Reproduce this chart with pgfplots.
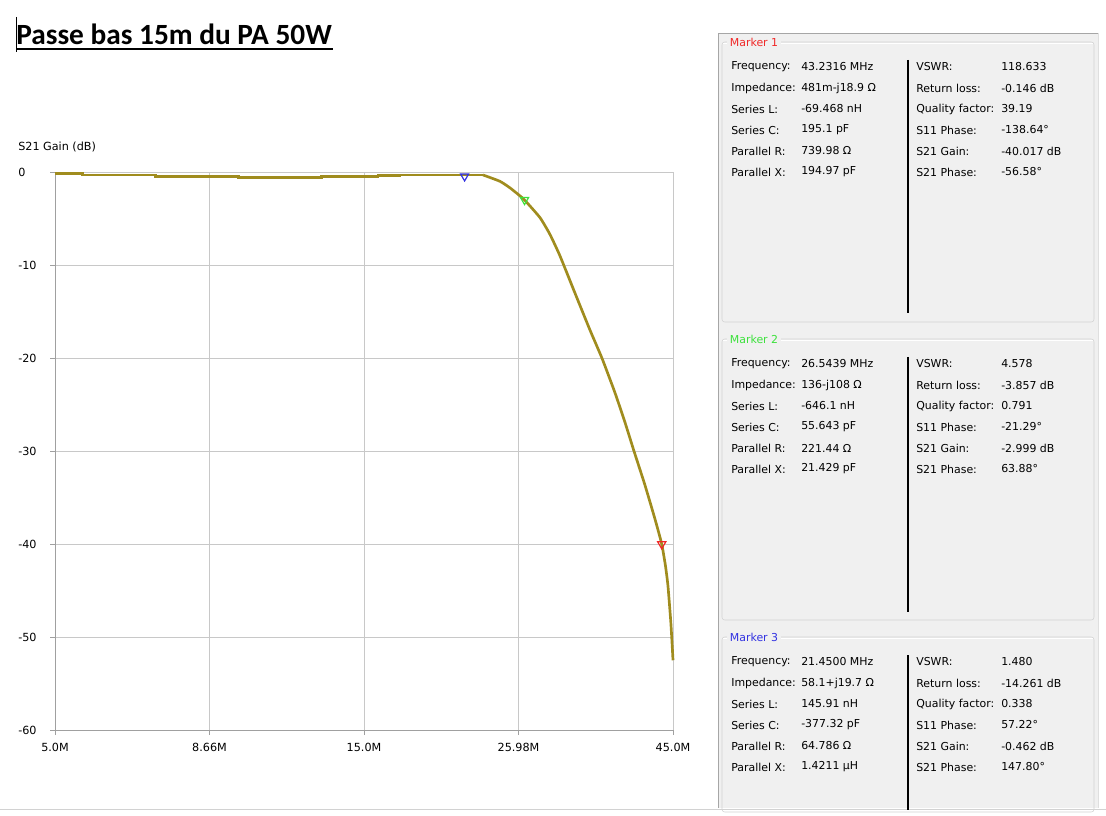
\documentclass[border=0pt]{standalone}
\usepackage{pgfplots}
\pgfplotsset{compat=1.18}
\usepackage{fontspec}
\setmainfont{DejaVu Sans}
\newfontfamily\titlefont{Carlito}

\definecolor{trace}{RGB}{160,140,30}
\definecolor{panel}{RGB}{240,240,240}
\definecolor{gridc}{RGB}{200,200,200}
\definecolor{mk1}{RGB}{240,40,40}
\definecolor{mk2}{RGB}{60,225,60}
\definecolor{mk3}{RGB}{50,50,225}

\newcommand\row[5]{%
  \node[txt] at (731,#1) {#2};
  \node[txt] at (801,#1) {#3};
  \node[txt] at (916,#1) {#4};
  \node[txt] at (1001,#1) {#5};}

\begin{document}
\begin{tikzpicture}
\useasboundingbox (0,0) rectangle (829.5pt,611.25pt);

\begin{axis}[
    at={(41.25pt,63.75pt)}, anchor=south west,
    scale only axis, width=463.5pt, height=418.5pt,
    xmode=log, xmin=5, xmax=45, ymin=-60, ymax=0,
    enlargelimits=false, clip=false,
    axis lines=left, axis line style={-,draw=gridc!80!black},
    grid=major, grid style={gridc,line width=0.6pt},
    xtick={5,8.66,15,25.98,45},
    xticklabels={5.0M,8.66M,15.0M,25.98M,45.0M},
    ytick={-60,-50,-40,-30,-20,-10,0},
    yticklabels={-60,-50,-40,-30,-20,-10,0},
    minor tick num=0, log ticks with fixed point,
    tick align=outside, major tick length=3.75pt,
    tick style={gridc!80!black,line width=0.6pt},
    /pgf/number format/assume math mode=true,
    ticklabel style={font=\fontsize{8.4}{10}\selectfont,inner sep=0pt},
    xticklabel style={anchor=north,yshift=-6pt},
    yticklabel style={anchor=west,xshift=-24pt},
    mk/.style={only marks,mark=triangle,mark size=3.5pt,line width=0.9pt,
      every mark/.append style={rotate=180}},
  ]
  % pass band (stepped trace)
  \addplot[trace,line width=2pt] coordinates {
    (5.00,-0.14) (5.52,-0.14) (5.52,-0.32) (7.14,-0.32) (7.14,-0.46)
    (9.59,-0.46) (9.59,-0.59) (12.9,-0.59) (12.9,-0.48) (15.76,-0.48)
    (15.76,-0.38) (17.0,-0.38) (17.0,-0.32) (22.9,-0.32)
  };
  % roll-off
  \addplot[trace,line width=2pt,smooth,tension=0.3] coordinates {
    (22.9,-0.32) (24.32,-1.0) (25.2,-1.7) (26.1,-2.55) (26.54,-3.0)
    (28.04,-4.9) (29.05,-6.7) (30.1,-9.0) (31.75,-13.0) (33.5,-17.0)
    (34.95,-20.0) (36.6,-23.7) (37.93,-26.9) (39.17,-30.0) (40.7,-33.6)
    (42.2,-37.3) (43.23,-40.0) (43.8,-42.3) (44.2,-44.5) (44.66,-48.5)
    (45.0,-52.5)
  };
  \addplot[mk,mk3] coordinates {(21.45,-0.462)};
  \addplot[mk,mk2] coordinates {(26.5439,-2.999)};
  \addplot[mk,mk1] coordinates {(43.2316,-40.017)};
\end{axis}

\begin{scope}[x=0.75pt,y=-0.75pt,shift={(0,-815)},
    txt/.style={anchor=west,inner sep=0pt,font=\fontsize{8.2}{10}\selectfont}]
% title
\node[anchor=base west,inner sep=0pt] at (16,45) {\titlefont\bfseries\fontsize{22}{26}\selectfont Passe bas 15m du PA 50W};
\draw[line width=1.2pt] (16,49) -- (333,49);
\draw[line width=0.5pt] (16,17) -- (16,52);

\node[txt,font=\fontsize{8.4}{10}\selectfont] at (18,147) {S21 Gain (dB)};

% marker panel
\fill[panel] (718,33) rectangle (1098,808);
\draw[gray!70] (718,808) -- (718,33) -- (1098,33);
\draw[gray!25] (1098,33) -- (1098,808);
\draw[gray!35] (0,809.5) -- (1106,809.5);

\foreach \t/\b in {42/322,339/620,637/812}{
  \draw[gray!35,rounded corners=2pt] (722,\b) -- (722,\t) -- (1094,\t) -- (1094,\b) -- cycle;
  \draw[white] (723,\t+1) -- (1093,\t+1);
}
\node[txt,fill=panel,inner xsep=2pt] at (727,42) {\color{mk1}Marker 1};
\node[txt,fill=panel,inner xsep=2pt] at (727,339) {\color{mk2}Marker 2};
\node[txt,fill=panel,inner xsep=2pt] at (727,637) {\color{mk3}Marker 3};

\draw[black,line width=0.8pt] (908,60) -- (908,313);
\draw[black,line width=0.8pt] (908,357) -- (908,612);
\draw[black,line width=0.8pt] (908,655) -- (908,810);

\row{67}{Frequency:}{43.2316 MHz}{VSWR:}{118.633}
\row{88}{Impedance:}{481m-j18.9 Ω}{Return loss:}{-0.146 dB}
\row{109}{Series L:}{-69.468 nH}{Quality factor:}{39.19}
\row{130}{Series C:}{195.1 pF}{S11 Phase:}{-138.64°}
\row{151}{Parallel R:}{739.98 Ω}{S21 Gain:}{-40.017 dB}
\row{172}{Parallel X:}{194.97 pF}{S21 Phase:}{-56.58°}

\row{364}{Frequency:}{26.5439 MHz}{VSWR:}{4.578}
\row{385}{Impedance:}{136-j108 Ω}{Return loss:}{-3.857 dB}
\row{406}{Series L:}{-646.1 nH}{Quality factor:}{0.791}
\row{427}{Series C:}{55.643 pF}{S11 Phase:}{-21.29°}
\row{448}{Parallel R:}{221.44 Ω}{S21 Gain:}{-2.999 dB}
\row{469}{Parallel X:}{21.429 pF}{S21 Phase:}{63.88°}

\row{662}{Frequency:}{21.4500 MHz}{VSWR:}{1.480}
\row{683}{Impedance:}{58.1+j19.7 Ω}{Return loss:}{-14.261 dB}
\row{704}{Series L:}{145.91 nH}{Quality factor:}{0.338}
\row{725}{Series C:}{-377.32 pF}{S11 Phase:}{57.22°}
\row{746}{Parallel R:}{64.786 Ω}{S21 Gain:}{-0.462 dB}
\row{767}{Parallel X:}{1.4211 µH}{S21 Phase:}{147.80°}
\end{scope}
\end{tikzpicture}
\end{document}
